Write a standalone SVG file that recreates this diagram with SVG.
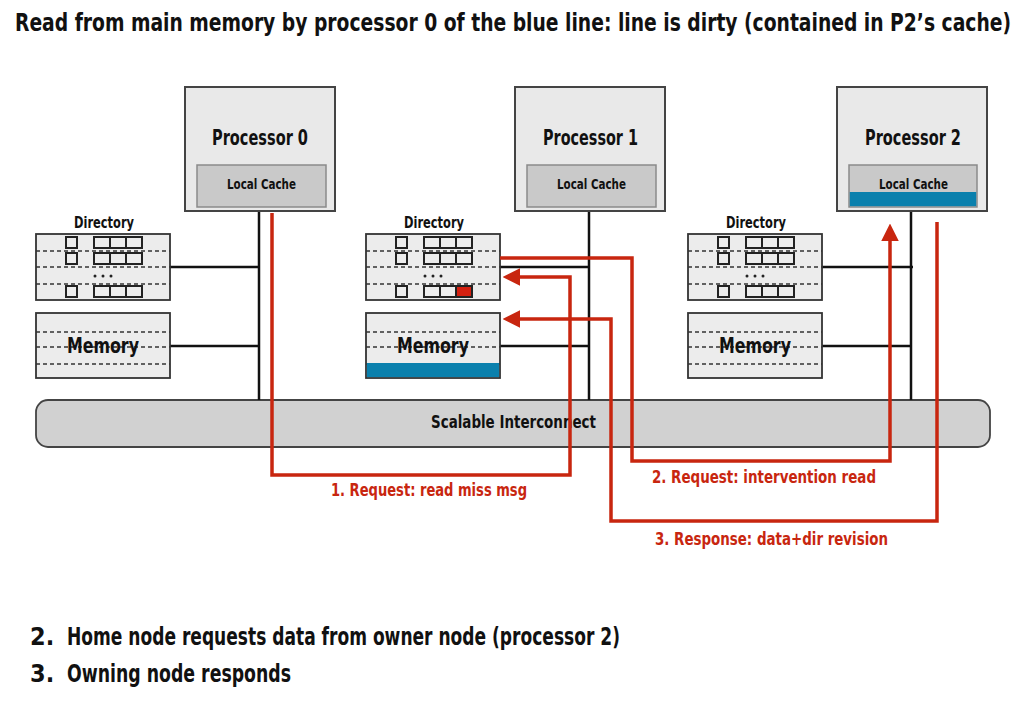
<svg xmlns="http://www.w3.org/2000/svg" width="1030" height="714" viewBox="0 0 1030 714">
<style>
text{font-family:"Liberation Sans Narrow","DejaVu Sans Condensed","Liberation Sans",sans-serif;font-weight:bold;fill:#111}
.proc{fill:#e9e9e9;stroke:#444;stroke-width:2}
.cache{fill:#c9c9c9;stroke:#8a8a8a;stroke-width:1.5}
.box{fill:#ececec;stroke:#333;stroke-width:1.8}
.sq{fill:none;stroke:#222;stroke-width:2}
.dash{stroke:#333;stroke-width:1.3;stroke-dasharray:4 3}
.wire{stroke:#111;stroke-width:2.5;fill:none}
.red{stroke:#c8260f;stroke-width:3.5;fill:none}
.lbl{fill:#c8260f;font-size:17px}
.blue{fill:#0a80ad}
</style>
<defs>
<marker id="ah" markerWidth="5" markerHeight="5" refX="0.3" refY="2.5" orient="auto" markerUnits="strokeWidth">
<path d="M0,0 L5,2.5 L0,5 Z" fill="#c8260f"/>
</marker>
<g id="dirInner">
<line class="dash" x1="0" y1="17" x2="134" y2="17"/>
<line class="dash" x1="0" y1="33" x2="134" y2="33"/>
<line class="dash" x1="0" y1="50" x2="134" y2="50"/>
<rect class="sq" x="30" y="3" width="11" height="11"/>
<rect class="sq" x="30" y="19" width="11" height="11"/>
<rect class="sq" x="30" y="52" width="11" height="11"/>
<rect class="sq" x="58" y="3" width="16" height="11"/><rect class="sq" x="74" y="3" width="16" height="11"/><rect class="sq" x="90" y="3" width="16" height="11"/>
<rect class="sq" x="58" y="19" width="16" height="11"/><rect class="sq" x="74" y="19" width="16" height="11"/><rect class="sq" x="90" y="19" width="16" height="11"/>
<rect class="sq" x="58" y="52" width="16" height="11"/><rect class="sq" x="74" y="52" width="16" height="11"/>
<circle cx="59" cy="42" r="1.5" fill="#222"/><circle cx="67" cy="42" r="1.5" fill="#222"/><circle cx="75" cy="42" r="1.5" fill="#222"/>
</g>
<g id="memInner">
<line class="dash" x1="0" y1="19" x2="134" y2="19"/>
<line class="dash" x1="0" y1="34" x2="134" y2="34"/>
<line class="dash" x1="0" y1="51" x2="134" y2="51"/>
</g>
</defs>
<rect width="1030" height="714" fill="#fff"/>
<text transform="translate(15,31) scale(1,1.3)" x="0" y="0" font-size="19" textLength="996" lengthAdjust="spacingAndGlyphs">Read from main memory by processor 0 of the blue line: line is dirty (contained in P2’s cache)</text>

<g id="interconnect">
<rect x="36" y="400" width="954" height="47" rx="12" fill="#d1d1d1" stroke="#444" stroke-width="1.8"/>
<text x="431" y="428" font-size="17" textLength="165" lengthAdjust="spacingAndGlyphs">Scalable Interconnect</text>
</g>

<g id="wires">
<path class="wire" d="M259,211 V400 M170,267 H259 M170,346 H259"/>
<path class="wire" d="M589,211 V400 M500,267 H589 M500,346 H589"/>
<path class="wire" d="M911,211 V400 M822,267 H913 M822,346 H911"/>
</g>

<g id="processor0">
<rect class="proc" x="185" y="87" width="150" height="124"/>
<rect class="cache" x="197" y="165" width="129" height="42"/>
<text x="212" y="145" font-size="21" textLength="96" lengthAdjust="spacingAndGlyphs">Processor 0</text>
<text x="227" y="189" font-size="14" textLength="69" lengthAdjust="spacingAndGlyphs">Local Cache</text>
</g>
<g id="processor1">
<rect class="proc" x="515" y="87" width="150" height="124"/>
<rect class="cache" x="527" y="165" width="129" height="42"/>
<text x="543" y="145" font-size="21" textLength="95" lengthAdjust="spacingAndGlyphs">Processor 1</text>
<text x="557" y="189" font-size="14" textLength="69" lengthAdjust="spacingAndGlyphs">Local Cache</text>
</g>
<g id="processor2">
<rect class="proc" x="837" y="87" width="150" height="124"/>
<rect class="cache" x="849" y="165" width="128" height="42"/>
<rect class="blue" x="849.8" y="192" width="126.4" height="14.2"/>
<text x="865" y="145" font-size="21" textLength="96" lengthAdjust="spacingAndGlyphs">Processor 2</text>
<text x="879" y="189" font-size="14" textLength="69" lengthAdjust="spacingAndGlyphs">Local Cache</text>
</g>

<g id="directory0">
<text x="74" y="228" font-size="15" textLength="60" lengthAdjust="spacingAndGlyphs">Directory</text>
<rect class="box" x="36" y="234" width="134" height="66"/>
<use href="#dirInner" x="36" y="234"/>
<rect class="sq" x="126" y="286" width="16" height="11"/>
</g>
<g id="directory1">
<text x="404" y="228" font-size="15" textLength="60" lengthAdjust="spacingAndGlyphs">Directory</text>
<rect class="box" x="366" y="234" width="134" height="66"/>
<use href="#dirInner" x="366" y="234"/>
<rect x="456" y="286" width="16" height="11" fill="#d42010" stroke="#222" stroke-width="2"/>
</g>
<g id="directory2">
<text x="726" y="228" font-size="15" textLength="60" lengthAdjust="spacingAndGlyphs">Directory</text>
<rect class="box" x="688" y="234" width="134" height="66"/>
<use href="#dirInner" x="688" y="234"/>
<rect class="sq" x="778" y="286" width="16" height="11"/>
</g>

<g id="memory0">
<rect class="box" x="36" y="313" width="134" height="65"/>
<use href="#memInner" x="36" y="313"/>
<text x="67" y="353" font-size="21" textLength="72" lengthAdjust="spacingAndGlyphs">Memory</text>
</g>
<g id="memory1">
<rect class="box" x="366" y="313" width="134" height="65"/>
<use href="#memInner" x="366" y="313"/>
<rect class="blue" x="366.9" y="363" width="132.2" height="14.1"/>
<text x="397" y="353" font-size="21" textLength="72" lengthAdjust="spacingAndGlyphs">Memory</text>
</g>
<g id="memory2">
<rect class="box" x="688" y="313" width="134" height="65"/>
<use href="#memInner" x="688" y="313"/>
<text x="719" y="353" font-size="21" textLength="72" lengthAdjust="spacingAndGlyphs">Memory</text>
</g>

<g id="connectors">
<path class="red" d="M272,213 V475 H570 V277 H519" marker-end="url(#ah)"/>
<path class="red" d="M500,258 H632 V461 H890 V240" marker-end="url(#ah)"/>
<path class="red" d="M937,222 V521 H611 V319 H519" marker-end="url(#ah)"/>
<text class="lbl" x="331" y="496" textLength="196" lengthAdjust="spacingAndGlyphs">1. Request: read miss msg</text>
<text class="lbl" x="652" y="483" textLength="224" lengthAdjust="spacingAndGlyphs">2. Request: intervention read</text>
<text class="lbl" x="655" y="545" textLength="233" lengthAdjust="spacingAndGlyphs">3. Response: data+dir revision</text>
</g>

<g id="notes">
<text x="30" y="645" font-size="25">2.</text>
<text x="67" y="645" font-size="25" textLength="553" lengthAdjust="spacingAndGlyphs">Home node requests data from owner node (processor 2)</text>
<text x="30" y="682" font-size="25">3.</text>
<text x="67" y="682" font-size="25" textLength="224" lengthAdjust="spacingAndGlyphs">Owning node responds</text>
</g>
</svg>
